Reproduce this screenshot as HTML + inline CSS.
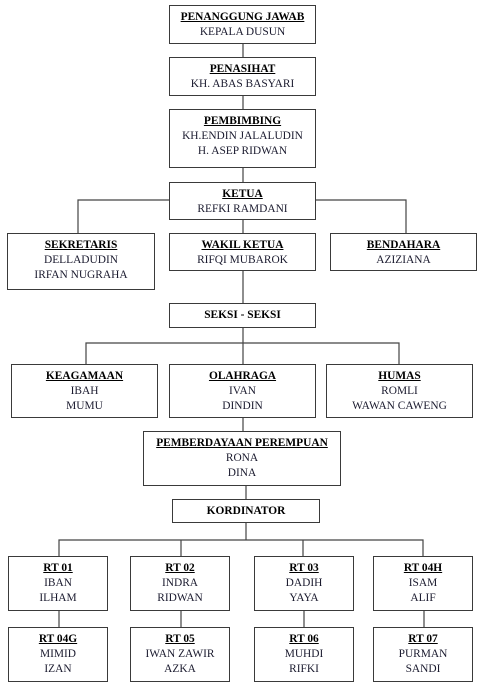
<!DOCTYPE html>
<html><head><meta charset="utf-8"><style>
html,body{margin:0;padding:0;background:#fff;width:492px;height:695px;overflow:hidden;position:relative;}
.b{position:absolute;box-sizing:border-box;border:1.3px solid #3a3a3a;background:#fff;font-family:"Liberation Serif",serif;font-size:11.4px;line-height:15px;color:#1a1a2e;text-align:center;padding-top:3.5px;}
.b b{text-decoration:underline;font-weight:bold;color:#000;}
.s{font-weight:bold;color:#000;padding-top:0;display:flex;align-items:center;justify-content:center;}
svg{position:absolute;left:0;top:0;}
</style></head><body>
<svg width="492" height="695"><g stroke="#444" stroke-width="1.2" fill="none">
<line x1="243" y1="44" x2="243" y2="57"/>
<line x1="243" y1="96" x2="243" y2="109"/>
<line x1="243" y1="168" x2="243" y2="182"/>
<polyline points="78,233 78,200 406,200 406,233"/>
<line x1="243" y1="220" x2="243" y2="303"/>
<line x1="243" y1="328" x2="243" y2="364"/>
<polyline points="86,364 86,343 399,343 399,364"/>
<line x1="243" y1="418" x2="243" y2="431"/>
<line x1="246" y1="486" x2="246" y2="499"/>
<line x1="246" y1="523" x2="246" y2="540"/>
<polyline points="59,556 59,540 423,540 423,556"/>
<line x1="181" y1="540" x2="181" y2="556"/>
<line x1="303" y1="540" x2="303" y2="556"/>
<line x1="59" y1="611" x2="59" y2="627"/>
<line x1="181" y1="611" x2="181" y2="627"/>
<line x1="304" y1="611" x2="304" y2="627"/>
<line x1="424" y1="611" x2="424" y2="627"/>
</g></svg>
<div class="b" style="left:169px;top:5px;width:147px;height:39px"><b>PENANGGUNG JAWAB</b><br>KEPALA DUSUN</div>
<div class="b" style="left:169px;top:57px;width:147px;height:39px"><b>PENASIHAT</b><br>KH. ABAS BASYARI</div>
<div class="b" style="left:169px;top:109px;width:147px;height:59px"><b>PEMBIMBING</b><br>KH.ENDIN JALALUDIN<br>H. ASEP RIDWAN</div>
<div class="b" style="left:169px;top:182px;width:147px;height:38px"><b>KETUA</b><br>REFKI RAMDANI</div>
<div class="b" style="left:7px;top:233px;width:148px;height:57px"><b>SEKRETARIS</b><br>DELLADUDIN<br>IRFAN NUGRAHA</div>
<div class="b" style="left:169px;top:233px;width:147px;height:38px"><b>WAKIL KETUA</b><br>RIFQI MUBAROK</div>
<div class="b" style="left:330px;top:233px;width:147px;height:38px"><b>BENDAHARA</b><br>AZIZIANA</div>
<div class="b s" style="left:169px;top:303px;width:147px;height:25px">SEKSI - SEKSI</div>
<div class="b" style="left:11px;top:364px;width:147px;height:54px"><b>KEAGAMAAN</b><br>IBAH<br>MUMU</div>
<div class="b" style="left:169px;top:364px;width:147px;height:54px"><b>OLAHRAGA</b><br>IVAN<br>DINDIN</div>
<div class="b" style="left:326px;top:364px;width:147px;height:54px"><b>HUMAS</b><br>ROMLI<br>WAWAN CAWENG</div>
<div class="b" style="left:143px;top:431px;width:198px;height:55px"><b>PEMBERDAYAAN PEREMPUAN</b><br>RONA<br>DINA</div>
<div class="b s" style="left:172px;top:499px;width:148px;height:24px">KORDINATOR</div>
<div class="b" style="left:8px;top:556px;width:100px;height:55px"><b>RT 01</b><br>IBAN<br>ILHAM</div>
<div class="b" style="left:130px;top:556px;width:100px;height:55px"><b>RT 02</b><br>INDRA<br>RIDWAN</div>
<div class="b" style="left:254px;top:556px;width:100px;height:55px"><b>RT 03</b><br>DADIH<br>YAYA</div>
<div class="b" style="left:373px;top:556px;width:100px;height:55px"><b>RT 04H</b><br>ISAM<br>ALIF</div>
<div class="b" style="left:8px;top:627px;width:100px;height:55px"><b>RT 04G</b><br>MIMID<br>IZAN</div>
<div class="b" style="left:130px;top:627px;width:100px;height:55px"><b>RT 05</b><br>IWAN ZAWIR<br>AZKA</div>
<div class="b" style="left:254px;top:627px;width:100px;height:55px"><b>RT 06</b><br>MUHDI<br>RIFKI</div>
<div class="b" style="left:373px;top:627px;width:100px;height:55px"><b>RT 07</b><br>PURMAN<br>SANDI</div>
</body></html>
